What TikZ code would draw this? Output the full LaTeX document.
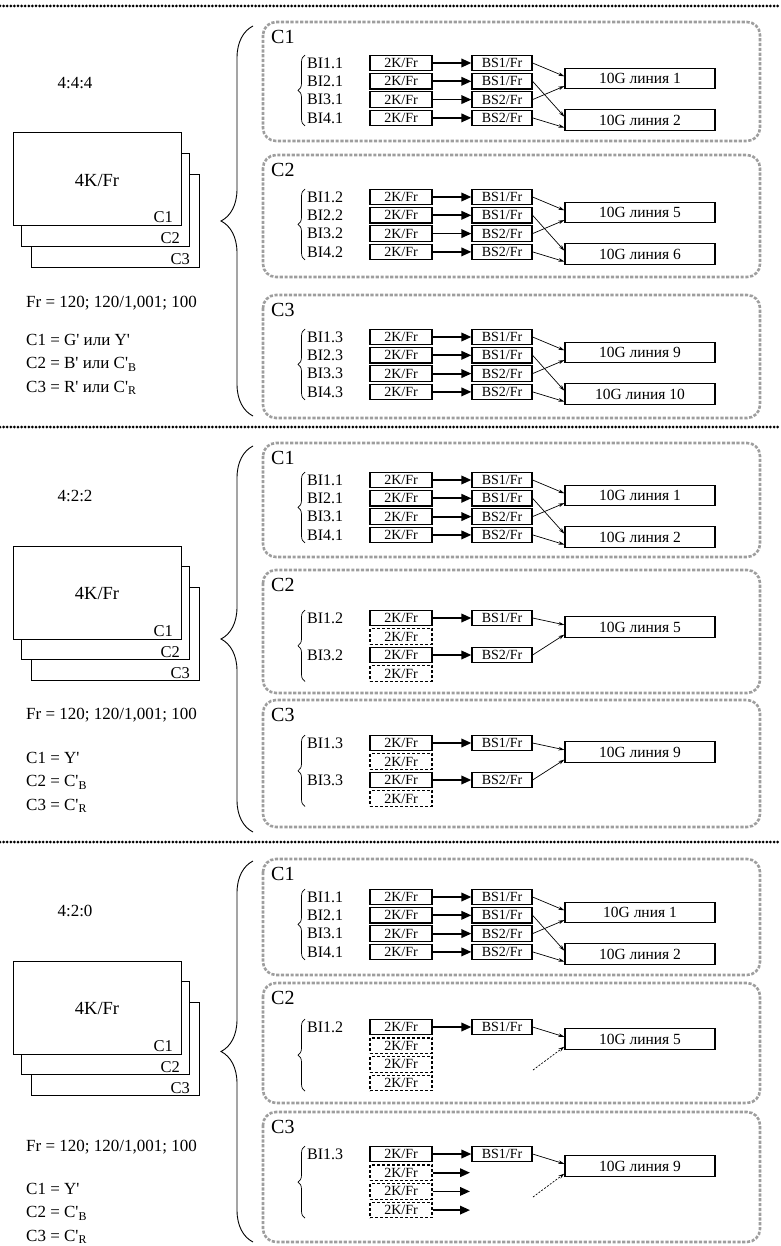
\documentclass[tikz,border=0pt]{standalone}
\usepackage{fontspec}
\setmainfont{Liberation Serif}
\usetikzlibrary{arrows.meta,decorations.pathreplacing,calc}
\newcommand{\ap}{\textquotesingle}
\newcommand{\sfz}[1]{\fontsize{#1}{#1}\selectfont}
\tikzset{
  sepline/.style={line width=3pt, dash pattern=on 0pt off 3.6pt, line cap=round},
  grp/.style={draw=black!38, line width=2.6pt, dash pattern=on 3.2pt off 1.6pt, rounded corners=13pt},
  grplbl/.style={anchor=west, inner sep=0pt, font=\sfz{20}},
  bilbl/.style={anchor=west, inner sep=0pt, font=\sfz{16}},
  kbox/.style={draw, line width=1.2pt, minimum width=62pt, minimum height=15.5pt, inner sep=0pt, font=\sfz{14}},
  kboxd/.style={kbox, dash pattern=on 3pt off 2pt},
  bsbox/.style={kbox, minimum width=60pt},
  gbox/.style={draw, line width=1.2pt, minimum width=150pt, minimum height=20.5pt, inner sep=0pt, font=\sfz{15.5}},
  fat/.style={line width=1.8pt, -{Triangle[length=10pt,width=8.5pt]}},
  lean/.style={line width=0.7pt, -{Stealth[length=6pt,width=3.6pt]}},
  leandot/.style={lean, dash pattern=on 2pt off 1.5pt},
  sbrace/.style={decorate, decoration={brace, amplitude=7pt}, line width=0.7pt},
  bbrace/.style={decorate, decoration={brace, amplitude=32pt}, line width=0.9pt},
  picframe/.style={draw, fill=white, line width=1pt, minimum width=168pt, minimum height=93pt, inner sep=0pt},
  ratiotxt/.style={inner sep=0pt, font=\sfz{17}},
  bigtxt/.style={inner sep=0pt, font=\sfz{18.5}},
  cornertxt/.style={anchor=base east, inner sep=0pt, font=\sfz{16.5}},
  ltxt/.style={anchor=base west, inner sep=0pt, font=\sfz{17}},
}
% before calling: \sepy (separator), \fry (Fr baseline), \lgap (gap Fr->C1), \brt, \brb (brace ends)
% left part of a section: id, offset, ratio, C1, C2, C3
\newcommand{\leftpart}[6]{%
  \draw[sepline] (0,\sepy) -- (780,\sepy);
  \node[ratiotxt] (#1-ratio) at (75,{#2+83}) {#3};
  \node[picframe] (#1-f3) at (115,{#2+221}) {};
  \node[picframe] (#1-f2) at (105.5,{#2+200}) {};
  \node[picframe] (#1-f1) at (97,{#2+179.5}) {};
  \node[bigtxt] (#1-4k) at (97,{#2+180}) {4K/Fr};
  \node[cornertxt] (#1-c1) at (173,{#2+223}) {C1};
  \node[cornertxt] (#1-c2) at (180,{#2+244}) {C2};
  \node[cornertxt] (#1-c3) at (190,{#2+265}) {C3};
  \node[ltxt] (#1-fr) at (26,\fry) {Fr = 120; 120/1,001; 100};
  \node[ltxt] (#1-e1) at (26,{\fry+\lgap}) {#4};
  \node[ltxt] (#1-e2) at (26,{\fry+\lgap+23.5}) {#5};
  \node[ltxt] (#1-e3) at (26,{\fry+\lgap+47}) {#6};
  \draw[bbrace] (253,\brb) -- (253,\brt);
}
% full four-row block: id, top, bottom, label, sub, r1, textA, textB
\newcommand{\fourblock}[8]{%
  \draw[grp] (263,#2) rectangle (760,#3);
  \node[grplbl] (#1-lbl) at (271,{#2+15}) {#4};
  \foreach \i/\bsn in {1/1,2/1,3/2,4/2}{
    \node[kbox] (#1-k\i) at (401,{#6+18.3*(\i-1)}) {2K/Fr};
    \node[bsbox] (#1-s\i) at (502,{#6+18.3*(\i-1)}) {BS\bsn/Fr};
    \node[bilbl] (#1-b\i) at (307,{#6+18.3*(\i-1)}) {BI\i.#5};
    \draw[fat] (#1-k\i) -- (#1-s\i);
  }
  \node[gbox] (#1-gA) at (640,{#6+15.5}) {#7};
  \node[gbox] (#1-gB) at (640,{#6+57}) {#8};
  \draw[lean] (#1-s1.east) -- ($(#1-gA.north west)!0.4!(#1-gA.south west)$);
  \draw[lean] (#1-s2.east) -- ($(#1-gB.north west)!0.35!(#1-gB.south west)$);
  \draw[lean] (#1-s3.east) -- ($(#1-gA.north west)!0.85!(#1-gA.south west)$);
  \draw[lean] (#1-s4.east) -- ($(#1-gB.north west)!0.85!(#1-gB.south west)$);
  \draw[sbrace] (305,{#6+18.3*3+8}) -- (305,{#6-8});
}
% two-row block (4:2:2): id, top, bottom, label, sub, r1, text
\newcommand{\twoblock}[7]{%
  \draw[grp] (263,#2) rectangle (760,#3);
  \node[grplbl] (#1-lbl) at (271,{#2+15}) {#4};
  \node[kbox] (#1-k1) at (401,#6) {2K/Fr};
  \node[kboxd] (#1-k2) at (401,{#6+18.5}) {2K/Fr};
  \node[kbox] (#1-k3) at (401,{#6+37}) {2K/Fr};
  \node[kboxd] (#1-k4) at (401,{#6+55.5}) {2K/Fr};
  \node[bsbox] (#1-s1) at (502,#6) {BS1/Fr};
  \node[bsbox] (#1-s3) at (502,{#6+37}) {BS2/Fr};
  \node[bilbl] (#1-b1) at (307,#6) {BI1.#5};
  \node[bilbl] (#1-b3) at (307,{#6+37}) {BI3.#5};
  \draw[fat] (#1-k1) -- (#1-s1);
  \draw[fat] (#1-k3) -- (#1-s3);
  \node[gbox] (#1-gA) at (640,{#6+9}) {#7};
  \draw[lean] (#1-s1.east) -- ($(#1-gA.north west)!0.4!(#1-gA.south west)$);
  \draw[lean] (#1-s3.east) -- ($(#1-gA.north west)!0.85!(#1-gA.south west)$);
  \draw[sbrace] (305,{#6+55.5+8}) -- (305,{#6-8});
}
% one-row block (4:2:0): id, top, bottom, label, sub, r1, text
\newcommand{\oneblock}[7]{%
  \draw[grp] (263,#2) rectangle (760,#3);
  \node[grplbl] (#1-lbl) at (271,{#2+15}) {#4};
  \node[kbox] (#1-k1) at (401,#6) {2K/Fr};
  \node[kboxd] (#1-k2) at (401,{#6+18.7}) {2K/Fr};
  \node[kboxd] (#1-k3) at (401,{#6+37.4}) {2K/Fr};
  \node[kboxd] (#1-k4) at (401,{#6+56.1}) {2K/Fr};
  \node[bsbox] (#1-s1) at (502,#6) {BS1/Fr};
  \node[bilbl] (#1-b1) at (307,#6) {BI1.#5};
  \draw[fat] (#1-k1) -- (#1-s1);
  \node[gbox] (#1-gA) at (640,{#6+12}) {#7};
  \coordinate (#1-free) at (533,{#6+43});
  \draw[lean] (#1-s1.east) -- ($(#1-gA.north west)!0.4!(#1-gA.south west)$);
  \draw[leandot] (#1-free) -- ($(#1-gA.north west)!0.85!(#1-gA.south west)$);
  \draw[sbrace] (305,{#6+56.1+8}) -- (305,{#6-8});
}
\begin{document}
\begin{tikzpicture}[x=1pt,y=-1pt]
\useasboundingbox (0,0) rectangle (780,1246);
% ---------- section 1: 4:4:4
\def\sepy{6}\def\fry{307}\def\lgap{38}\def\brt{26}\def\brb{416}
\leftpart{a}{0}{4:4:4}{C1 = G\ap{} или Y\ap}{C2 = B\ap{} или C\ap\textsubscript{B}}{C3 = R\ap{} или C\ap\textsubscript{R}}
\fourblock{a1}{22}{141}{C1}{1}{63}{10G линия 1}{10G линия 2}
\fourblock{a2}{155}{277}{C2}{2}{197}{10G линия 5}{10G линия 6}
\fourblock{a3}{295}{418}{C3}{3}{337}{10G линия 9}{10G линия 10}
% ---------- section 2: 4:2:2
\def\sepy{427}\def\fry{719}\def\lgap{44}\def\brt{446}\def\brb{832}
\leftpart{b}{413}{4:2:2}{C1 = Y\ap}{C2 = C\ap\textsubscript{B}}{C3 = C\ap\textsubscript{R}}
\fourblock{b1}{443}{557}{C1}{1}{480}{10G линия 1}{10G линия 2}
\twoblock{b2}{570}{693}{C2}{2}{618}{10G линия 5}
\twoblock{b3}{700}{827}{C3}{3}{743}{10G линия 9}
% ---------- section 3: 4:2:0
\def\sepy{842}\def\fry{1151}\def\lgap{43}\def\brt{861}\def\brb{1242}
\leftpart{c}{828}{4:2:0}{C1 = Y\ap}{C2 = C\ap\textsubscript{B}}{C3 = C\ap\textsubscript{R}}
\fourblock{c1}{859}{975}{C1}{1}{897}{10G лния 1}{10G линия 2}
\oneblock{c2}{983}{1103}{C2}{2}{1027}{10G линия 5}
\oneblock{c3}{1112}{1242}{C3}{3}{1154}{10G линия 9}
\coordinate (c3-e2) at (470,{1154+18.7});
\coordinate (c3-e3) at (470,{1154+37.4});
\coordinate (c3-e4) at (470,{1154+56.1});
\draw[fat] (c3-k2) -- (c3-e2);
\draw[fat] (c3-k3) -- (c3-e3);
\draw[fat] (c3-k4) -- (c3-e4);
\end{tikzpicture}
\end{document}
